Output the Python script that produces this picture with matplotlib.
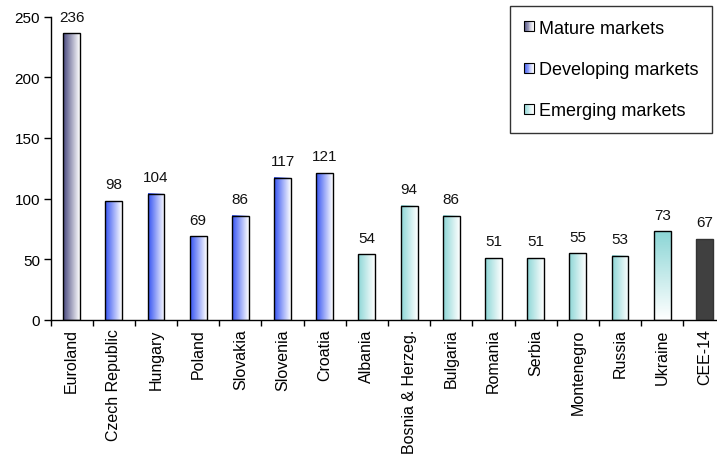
import numpy as np
import matplotlib
matplotlib.use("Agg")
import matplotlib.pyplot as plt
from matplotlib.patches import Rectangle
from matplotlib.legend_handler import HandlerBase
from matplotlib.colors import to_rgb

plt.rcParams['font.family'] = ['Liberation Sans', 'DejaVu Sans']

categories = ["Euroland", "Czech Republic", "Hungary", "Poland", "Slovakia", "Slovenia",
              "Croatia", "Albania", "Bosnia & Herzeg.", "Bulgaria", "Romania", "Serbia",
              "Montenegro", "Russia", "Ukraine", "CEE-14"]
values = [236, 98, 104, 69, 86, 117, 121, 54, 94, 86, 51, 51, 55, 53, 73, 67]
groups = ["mature", "developing", "developing", "developing", "developing", "developing",
          "developing", "emerging", "emerging", "emerging", "emerging", "emerging",
          "emerging", "emerging", "emerging_v", "total"]
legend_labels = ["Mature markets", "Developing markets", "Emerging markets"]

base_colors = {"mature": "#48487e", "developing": "#3553f2", "emerging": "#8cd6d6",
               "emerging_v": "#8cd6d6", "total": "#404040"}

fig = plt.figure(figsize=(7.17, 4.6), dpi=100)
ax = fig.add_axes([50.5 / 717, 139 / 460, 675 / 717, 303.5 / 460])

x = np.arange(len(categories))
width = 0.4
bars = ax.bar(x, values, width=width, facecolor="none", edgecolor="black",
              linewidth=1.0, zorder=3)


def grad_img(color, vertical=False, n=64):
    c = np.array(to_rgb(color))
    w = np.ones(3)
    t = np.linspace(0, 1, n)[:, None]
    row = c * (1 - t) + w * t
    if vertical:
        return row[:, None, :]
    return row[None, :, :]


for b, g in zip(bars, groups):
    x0, y0 = b.get_x(), b.get_y()
    w, h = b.get_width(), b.get_height()
    if g == "total":
        ax.add_patch(Rectangle((x0, y0), w, h, facecolor="#404040", edgecolor="none", zorder=2))
        b.set_edgecolor("#333333")
    else:
        img = grad_img(base_colors[g], vertical=(g == "emerging_v"))
        ax.imshow(img, extent=[x0, x0 + w, y0, y0 + h], aspect="auto",
                  origin="upper", zorder=2, interpolation="bilinear")

for xi, v in zip(x, values):
    ax.annotate(str(v), (xi, v), xytext=(0, 7), textcoords="offset points",
                ha="center", va="bottom", fontsize=11, color="#111111")

ax.set_xlim(-0.5, len(categories) - 0.5)
ax.set_ylim(0, 250)
ax.set_yticks([0, 50, 100, 150, 200, 250])
ax.set_xticks(x)
ax.set_xticklabels(categories, rotation=90, fontsize=11.5)
ax.set_xticks(np.arange(-0.5, len(categories), 1), minor=True)
ax.tick_params(axis="x", which="major", length=0, pad=6)
ax.tick_params(axis="x", which="minor", length=4, direction="out", width=1)
ax.tick_params(axis="y", length=5, direction="out", labelsize=11, width=1, pad=2.5)
for s in ["top", "right"]:
    ax.spines[s].set_visible(False)
ax.spines["left"].set_linewidth(1)
ax.spines["bottom"].set_linewidth(1)


class GradHandler(HandlerBase):
    def __init__(self, color):
        super().__init__()
        self.color = color

    def create_artists(self, legend, orig_handle, xdescent, ydescent, width, height,
                       fontsize, trans):
        size = width
        x0 = -xdescent
        y0 = -ydescent + (height - size) / 2
        arts = []
        n = 12
        c = np.array(to_rgb(self.color))
        for i in range(n):
            t = i / (n - 1)
            col = c * (1 - t) + np.ones(3) * t
            arts.append(Rectangle((x0 + i * size / n, y0), size / n, size,
                                  facecolor=col, edgecolor="none", transform=trans))
        arts.append(Rectangle((x0, y0), size, size, facecolor="none",
                              edgecolor="black", linewidth=0.8, transform=trans))
        return arts


handles = [Rectangle((0, 0), 1, 1) for _ in range(3)]
handler_map = {handles[0]: GradHandler("#48487e"),
               handles[1]: GradHandler("#3553f2"),
               handles[2]: GradHandler("#8cd6d6")}
leg = fig.legend(handles, legend_labels, handler_map=handler_map,
                 loc="upper left", bbox_to_anchor=(510 / 717, 1 - 7 / 460),
                 frameon=True, fancybox=False, edgecolor="black", fontsize=13,
                 labelspacing=1.35, handlelength=0.56, handletextpad=0.3,
                 borderpad=0.75, borderaxespad=0)
leg.get_frame().set_linewidth(1.0)

fig.savefig("out.png", dpi=100)
